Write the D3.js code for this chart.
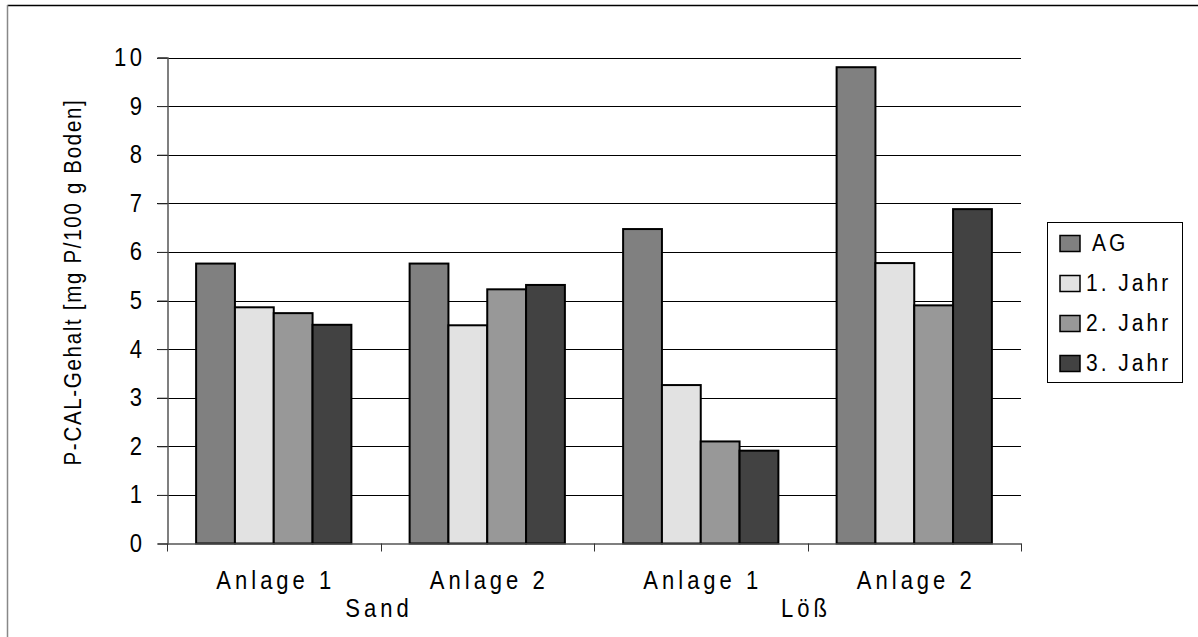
<!DOCTYPE html>
<html>
<head>
<meta charset="utf-8">
<script src="https://cdn.jsdelivr.net/npm/d3@7"></script>
<style>
  html, body { margin: 0; padding: 0; background: #fff; }
  svg { display: block; }
  text { font-family: "Liberation Sans", Arial, sans-serif; fill: #000; }
</style>
</head>
<body>
<svg id="chart" width="1198" height="637"></svg>
<script>
// Phosphorus content per site and year
const sites = ["Sand A1", "Sand A2", "Löß A1", "Löß A2"];
const siteLabels = ["Anlage 1", "Anlage 2", "Anlage 1", "Anlage 2"];
const soilLabels = ["Sand", "Löß"];
const seriesNames = ["AG", "1. Jahr", "2. Jahr", "3. Jahr"];
const seriesColors = ["#808080", "#e2e2e2", "#989898", "#424242"];
const valuesAG = [5.76, 5.76, 6.47, 9.80];
const valuesJahr1 = [4.86, 4.49, 3.26, 5.77];
const valuesJahr2 = [4.74, 5.23, 2.10, 4.90];
const valuesJahr3 = [4.50, 5.32, 1.91, 6.88];
const yTicks = [0, 1, 2, 3, 4, 5, 6, 7, 8, 9, 10];

const seriesValues = [valuesAG, valuesJahr1, valuesJahr2, valuesJahr3];
const svg = d3.select("#chart");

// frame edges
svg.append("line").attr("x1", 7.5).attr("x2", 1198).attr("y1", 5.5).attr("y2", 5.5)
  .attr("stroke", "#000").attr("stroke-width", 1.5);
svg.append("line").attr("x1", 7.5).attr("x2", 7.5).attr("y1", 5).attr("y2", 637)
  .attr("stroke", "#888").attr("stroke-width", 1.5);

const plot = { left: 167, right: 1021, top: 57.5, bottom: 543.5 };

const x0 = d3.scaleBand().domain(sites).range([plot.left, plot.right]).paddingInner(0).paddingOuter(0);
const x1 = d3.scaleBand().domain(seriesNames).range([0, x0.bandwidth()]).paddingInner(0).paddingOuter(0.75);
const y = d3.scaleLinear().domain([0, 10]).range([plot.bottom, plot.top]);

const stretch = 1.13;
function stretchedText(sel, xPos, yPos) {
  return sel.attr("transform", `translate(${xPos},${yPos}) scale(1,${stretch})`);
}

// horizontal gridlines
svg.append("g").selectAll("line")
  .data(yTicks.filter(t => t > 0))
  .join("line")
  .attr("x1", plot.left - 10).attr("x2", plot.right)
  .attr("y1", d => Math.round(y(d)) + 0.5).attr("y2", d => Math.round(y(d)) + 0.5)
  .attr("stroke", "#000").attr("stroke-width", 1);

// y axis
const yAxis = d3.axisLeft(y).tickValues(yTicks).tickSize(10).tickPadding(16).tickFormat(d3.format("d"));
const gy = svg.append("g").attr("transform", `translate(${plot.left + 0.5},0)`).call(yAxis);
gy.select(".domain").attr("stroke", "#555").attr("stroke-width", 1.5);
gy.selectAll(".tick line").attr("stroke", "#333");
gy.selectAll(".tick text")
  .attr("font-size", 22).attr("letter-spacing", "3.5px")
  .attr("font-family", "Liberation Sans, Arial, sans-serif")
  .attr("dy", null).attr("y", 0)
  .attr("transform", `translate(4,8) scale(1,${stretch})`);

// bars
const groups = svg.append("g").selectAll("g")
  .data(sites)
  .join("g")
  .attr("transform", d => `translate(${x0(d)},0)`);

groups.selectAll("rect")
  .data((d, i) => seriesNames.map((s, k) => ({ s, k, v: seriesValues[k][i] })))
  .join("rect")
  .attr("x", d => x1(d.s))
  .attr("width", x1.bandwidth())
  .attr("y", d => y(d.v))
  .attr("height", d => y(0) - y(d.v))
  .attr("fill", d => seriesColors[d.k])
  .attr("stroke", "#000").attr("stroke-width", 2);

// x axis
const xAxis = d3.axisBottom(x0).tickSize(0).tickFormat("");
const gx = svg.append("g").attr("transform", `translate(0,${plot.bottom})`).call(xAxis);
gx.select(".domain").attr("stroke", "#555").attr("stroke-width", 1.5);
const boundaries = [plot.left].concat(sites.map(s => x0(s) + x0.bandwidth()));
gx.selectAll("line.sep")
  .data(boundaries)
  .join("line")
  .attr("class", "sep")
  .attr("x1", d => Math.round(d) + 0.5).attr("x2", d => Math.round(d) + 0.5)
  .attr("y1", 0).attr("y2", 8)
  .attr("stroke", "#333").attr("stroke-width", 1);

// category labels
svg.append("g").selectAll("text")
  .data(sites)
  .join("text")
  .attr("text-anchor", "middle")
  .attr("font-size", 22).attr("letter-spacing", "4px")
  .each(function (d, i) {
    stretchedText(d3.select(this), x0(d) + x0.bandwidth() / 2 + 2, 589);
  })
  .text((d, i) => siteLabels[i]);

// soil type labels
svg.append("g").selectAll("text")
  .data(soilLabels)
  .join("text")
  .attr("text-anchor", "middle")
  .attr("font-size", 22).attr("letter-spacing", "4px")
  .each(function (d, i) {
    const b = x0(sites[i * 2]) + x0.bandwidth();
    stretchedText(d3.select(this), b - 1.5, 617);
  })
  .text(d => d);

// y axis title
svg.append("text")
  .attr("text-anchor", "middle")
  .attr("font-size", 20.5).attr("letter-spacing", "1.7px")
  .attr("transform", `translate(81,282) rotate(-90) scale(1,${stretch})`)
  .text("P-CAL-Gehalt [mg P/100 g Boden]");

// legend
const legend = svg.append("g");
legend.append("rect")
  .attr("x", 1047.5).attr("y", 222.5).attr("width", 135).attr("height", 160)
  .attr("fill", "#fff").attr("stroke", "#000").attr("stroke-width", 1);
const rows = legend.selectAll("g.row")
  .data(seriesNames)
  .join("g")
  .attr("class", "row")
  .attr("transform", (d, i) => `translate(0,${243.5 + i * 40})`);
rows.append("rect")
  .attr("x", 1060).attr("y", -8).attr("width", 20).attr("height", 16)
  .attr("fill", (d, i) => seriesColors[i])
  .attr("stroke", "#000").attr("stroke-width", 1.5);
rows.append("text")
  .attr("font-size", 21).attr("letter-spacing", "3px")
  .each(function (d, i) {
    stretchedText(d3.select(this), i === 0 ? 1092 : 1086, 7);
  })
  .text(d => d);
</script>
</body>
</html>
